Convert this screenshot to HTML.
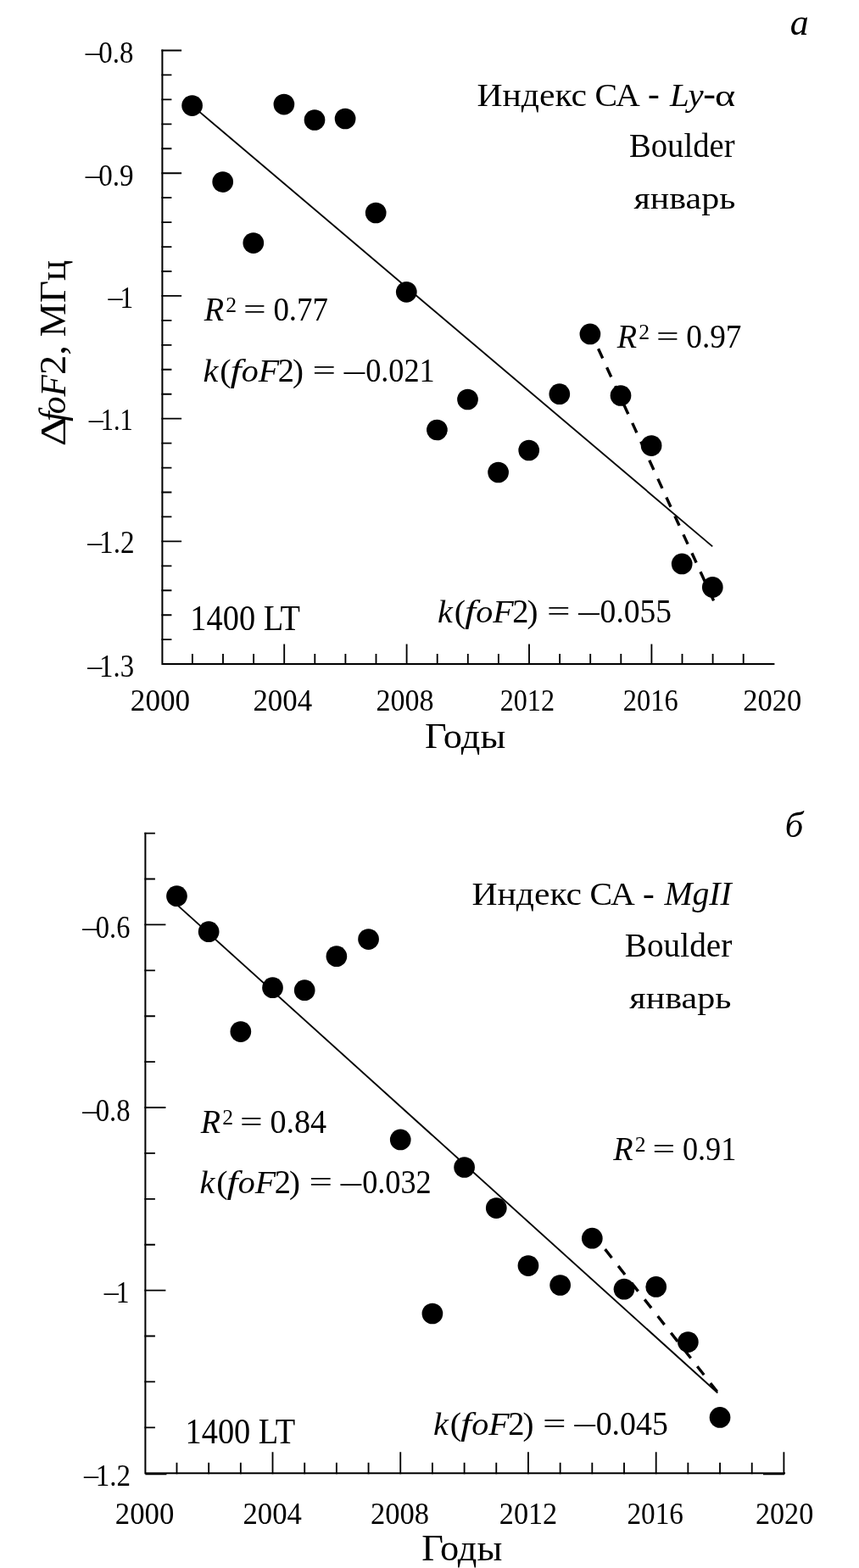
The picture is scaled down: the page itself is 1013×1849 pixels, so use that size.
<!DOCTYPE html>
<html><head><meta charset="utf-8"><title>fig</title>
<style>
html,body{margin:0;padding:0;background:#fff}svg{display:block}
text{font-family:"Liberation Serif","DejaVu Serif",serif;fill:#000}
.i{font-style:italic}
</style></head><body>
<svg width="1013" height="1849" viewBox="0 0 1013 1849">
<rect width="1013" height="1849" fill="#fff"/>
<path d="M191.4 58.6V783.1H913.4" stroke="#000" stroke-width="2" fill="none" stroke-linejoin="miter"/>
<path d="M190.4 59.5h23.7M190.4 88.44h12M190.4 117.39h12M190.4 146.33h12M190.4 175.28h12M190.4 204.22h23.7M190.4 233.16h12M190.4 262.11h12M190.4 291.05h12M190.4 320h12M190.4 348.94h23.7M190.4 377.88h12M190.4 406.83h12M190.4 435.77h12M190.4 464.72h12M190.4 493.66h23.7M190.4 522.6h12M190.4 551.55h12M190.4 580.49h12M190.4 609.44h12M190.4 638.38h23.7M190.4 667.32h12M190.4 696.27h12M190.4 725.21h12M190.4 754.16h12M226.9 784.1v-13M263 784.1v-13M299.1 784.1v-13M335.2 784.1v-24.7M371.3 784.1v-13M407.4 784.1v-13M443.5 784.1v-13M479.6 784.1v-24.7M515.7 784.1v-13M551.8 784.1v-13M587.9 784.1v-13M624 784.1v-24.7M660.1 784.1v-13M696.2 784.1v-13M732.3 784.1v-13M768.4 784.1v-24.7M804.5 784.1v-13M840.6 784.1v-13M876.7 784.1v-13" stroke="#000" stroke-width="1.85" fill="none"/>
<path d="M226.7 124.6L840.2 644.4" stroke="#000" stroke-width="1.9" fill="none"/>
<path d="M697.6 393.9L841.4 707.8" stroke="#000" stroke-width="3.4" stroke-dasharray="12.4 11.7" stroke-dashoffset="5.0" fill="none"/>
<g fill="#000"><circle cx="226.6" cy="124.6" r="12.35"/><circle cx="262.7" cy="214.6" r="12.35"/><circle cx="298.8" cy="286.6" r="12.35"/><circle cx="334.9" cy="123.1" r="12.35"/><circle cx="371" cy="141.5" r="12.35"/><circle cx="407.1" cy="140" r="12.35"/><circle cx="443.2" cy="251" r="12.35"/><circle cx="479.3" cy="344.3" r="12.35"/><circle cx="515.4" cy="507" r="12.35"/><circle cx="551.5" cy="471" r="12.35"/><circle cx="587.6" cy="557" r="12.35"/><circle cx="623.7" cy="531" r="12.35"/><circle cx="659.8" cy="464.7" r="12.35"/><circle cx="695.9" cy="393.9" r="12.35"/><circle cx="732" cy="466.5" r="12.35"/><circle cx="768.1" cy="525.6" r="12.35"/><circle cx="804.2" cy="664.9" r="12.35"/><circle cx="840.3" cy="692.4" r="12.35"/></g>
<path d="M838.9 702.3L841.6 708.3" stroke="#000" stroke-width="3" fill="none"/>
<path d="M171.4 981.7V1737.2H926" stroke="#000" stroke-width="2" fill="none" stroke-linejoin="miter"/>
<path d="M170.4 982.6h12.5M170.4 1036.5h12.5M170.4 1090.4h25M170.4 1144.3h12.5M170.4 1198.2h12.5M170.4 1252.1h12.5M170.4 1306h25M170.4 1359.9h12.5M170.4 1413.8h12.5M170.4 1467.7h12.5M170.4 1521.6h25M170.4 1575.5h12.5M170.4 1629.4h12.5M170.4 1683.3h12.5M208.48 1738.2v-13.5M246.16 1738.2v-13.5M283.84 1738.2v-13.5M321.52 1738.2v-26M359.2 1738.2v-13.5M396.88 1738.2v-13.5M434.56 1738.2v-13.5M472.24 1738.2v-26M509.92 1738.2v-13.5M547.6 1738.2v-13.5M585.28 1738.2v-13.5M622.96 1738.2v-26M660.64 1738.2v-13.5M698.32 1738.2v-13.5M736 1738.2v-13.5M773.68 1738.2v-26M811.36 1738.2v-13.5M849.04 1738.2v-13.5M886.72 1738.2v-13.5M924.4 1738.2v-26M171.4 1738.3h25M900 1738.3h25" stroke="#000" stroke-width="1.85" fill="none"/>
<path d="M208.4 1066.6L846.3 1642.5" stroke="#000" stroke-width="1.9" fill="none"/>
<path d="M700.5 1456.6L849.5 1645.8" stroke="#000" stroke-width="3.4" stroke-dasharray="12.8 12.3" stroke-dashoffset="4.0" fill="none"/>
<g fill="#000"><circle cx="208.48" cy="1056.7" r="12.35"/><circle cx="246.16" cy="1098.7" r="12.35"/><circle cx="283.84" cy="1216.6" r="12.35"/><circle cx="321.52" cy="1164.7" r="12.35"/><circle cx="359.2" cy="1167.7" r="12.35"/><circle cx="396.88" cy="1127.7" r="12.35"/><circle cx="434.56" cy="1107.6" r="12.35"/><circle cx="472.24" cy="1343.9" r="12.35"/><circle cx="509.92" cy="1549" r="12.35"/><circle cx="547.6" cy="1376.5" r="12.35"/><circle cx="585.28" cy="1424.6" r="12.35"/><circle cx="622.96" cy="1492.6" r="12.35"/><circle cx="660.64" cy="1515.5" r="12.35"/><circle cx="698.32" cy="1460.2" r="12.35"/><circle cx="736" cy="1520.2" r="12.35"/><circle cx="773.68" cy="1517.4" r="12.35"/><circle cx="811.36" cy="1582.6" r="12.35"/><circle cx="849.04" cy="1671.4" r="12.35"/></g>
<g><text font-size="34" transform="translate(100.75 71.98) scale(1.0057 1.0000)">–</text><text font-size="34" transform="translate(116.29 74) scale(0.9675 1.0681)">0.8</text></g>
<g><text font-size="34" transform="translate(100.75 216.78) scale(1.0057 1.0000)">–</text><text font-size="34" transform="translate(116.28 218.8) scale(0.9736 1.0681)">0.9</text></g>
<g><text font-size="34" transform="translate(127.45 361.17) scale(1.0057 1.0000)">–</text><text font-size="34" transform="translate(141.45 363.2) scale(0.9167 1.0711)">1</text></g>
<g><text font-size="34" transform="translate(104.65 505.07) scale(1.0057 1.0000)">–</text><text font-size="34" transform="translate(118.72 507.1) scale(0.8933 1.0800)">1.1</text></g>
<g><text font-size="34" transform="translate(103.25 649.88) scale(1.0057 1.0000)">–</text><text font-size="34" transform="translate(117.07 651.9) scale(0.9775 1.0889)">1.2</text></g>
<g><text font-size="34" transform="translate(103.25 795.98) scale(1.0057 1.0000)">–</text><text font-size="34" transform="translate(117.11 798) scale(0.9647 1.0889)">1.3</text></g>
<g><text font-size="34" transform="translate(153.85 837.8) scale(1.0330 1.0374)">2000</text></g>
<g><text font-size="34" transform="translate(298.46 837.8) scale(1.0242 1.0374)">2004</text></g>
<g><text font-size="34" transform="translate(443.4 837.8) scale(1.0023 1.0374)">2008</text></g>
<g><text font-size="34" transform="translate(589.68 837.8) scale(0.9452 1.0374)">2012</text></g>
<g><text font-size="34" transform="translate(734.77 837.8) scale(0.9542 1.0374)">2016</text></g>
<g><text font-size="34" transform="translate(876.28 837.8) scale(1.0146 1.0374)">2020</text></g>
<g><text font-size="42" transform="translate(501.08 881.9) scale(1.0587 1.0255)">Годы</text></g>
<g><text class="i" font-size="44" transform="translate(931.65 41) scale(1.0000 1.0169)">а</text></g>
<g><text font-size="38" transform="translate(562.4 124.7) scale(1.0959 1.0080)">Индекс</text> <text font-size="38" transform="translate(701.43 124.7) scale(1.0490 1.0218)">СА</text> <text font-size="38" transform="translate(763.97 124.28) scale(1.0872 1.0872)">-</text> <text class="i" font-size="38" transform="translate(789.94 124.7) scale(1.0800 0.9800)">Ly</text><text font-size="38" transform="translate(829.36 124.85) scale(1.1590 1.1500)">-</text><text font-size="38" transform="translate(843.08 124.7) scale(1.2114 0.9444)">α</text></g>
<g><text font-size="38" transform="translate(741.98 185.1) scale(1.0174 1.0340)">Boulder</text></g>
<g><text font-size="38" transform="translate(747.5 245.8) scale(1.1058 0.9389)">январь</text></g>
<g><text class="i" font-size="36" transform="translate(240.77 378.2) scale(1.0605 1.1064)">R</text><text font-size="22" transform="translate(266.33 368) scale(1.1657 1.1724)">2</text> <text font-size="38" transform="translate(287.01 375.96) scale(1.2457 0.9000)">=</text> <text font-size="38" transform="translate(322.44 378.2) scale(0.9703 1.0772)">0.77</text></g>
<g><text class="i" font-size="38" transform="translate(239.45 450) scale(1.0545 1.0000)">k</text><text font-size="38" transform="translate(259.15 450) scale(1.0564 1.0133)">(</text><text class="i" font-size="38" transform="translate(271.38 450) scale(1.2414 1.0168)">f</text><text class="i" font-size="38" transform="translate(284.68 450) scale(1.0545 1.0240)">oF</text><text font-size="38" transform="translate(327.63 450) scale(1.0098 1.0614)">2</text><text font-size="38" transform="translate(345.02 450) scale(1.0256 1.0133)">)</text> <text font-size="38" transform="translate(368.43 448.16) scale(1.2857 0.9000)">=</text> <text font-size="38" transform="translate(405.82 448.95) scale(1.2821 1.0000)">–</text><text font-size="38" transform="translate(431.17 450) scale(0.9541 1.0693)">0.021</text></g>
<g><text class="i" font-size="36" transform="translate(727.67 410.4) scale(1.0605 1.1064)">R</text><text font-size="22" transform="translate(753.23 400.2) scale(1.1657 1.1724)">2</text> <text font-size="38" transform="translate(773.91 408.16) scale(1.2457 0.9000)">=</text> <text font-size="38" transform="translate(809.33 410.4) scale(0.9797 1.0772)">0.97</text></g>
<g><text class="i" font-size="38" transform="translate(515.95 733.8) scale(1.0545 1.0000)">k</text><text font-size="38" transform="translate(535.65 733.8) scale(1.0564 1.0133)">(</text><text class="i" font-size="38" transform="translate(547.88 733.8) scale(1.2414 1.0168)">f</text><text class="i" font-size="38" transform="translate(561.18 733.8) scale(1.0545 1.0240)">oF</text><text font-size="38" transform="translate(604.13 733.8) scale(1.0098 1.0614)">2</text><text font-size="38" transform="translate(621.52 733.8) scale(1.0256 1.0133)">)</text> <text font-size="38" transform="translate(644.93 731.96) scale(1.2857 0.9000)">=</text> <text font-size="38" transform="translate(682.32 732.75) scale(1.2821 1.0000)">–</text><text font-size="38" transform="translate(707.62 733.8) scale(0.9891 1.0693)">0.055</text></g>
<g><text font-size="40" transform="translate(224.34 743.4) scale(0.9595 1.0430)">1400 LT</text></g>
<g><text font-size="42" transform="translate(76.7 524.4) rotate(-90) translate(-1.94 0) scale(1.2958 1.0270)">Δ</text><text class="i" font-size="42" transform="translate(76.7 524.4) rotate(-90) translate(27.5 0) scale(1.0000 1.0508)">f</text><text class="i" font-size="42" transform="translate(76.7 524.4) rotate(-90) translate(36.27 0) scale(0.9836 1.0291)">oF</text><text font-size="42" transform="translate(76.7 524.4) rotate(-90) translate(82.36 0) scale(1.1074 1.0739)">2,</text> <text font-size="42" transform="translate(76.7 524.4) rotate(-90) translate(127.16 0) scale(1.0756 1.0364)">МГц</text></g>
<g><text font-size="34" transform="translate(97.25 1104.38) scale(1.0057 1.0000)">–</text><text font-size="34" transform="translate(112.81 1106.4) scale(0.9540 1.0901)">0.6</text></g>
<g><text font-size="34" transform="translate(97.25 1320.38) scale(1.0057 1.0000)">–</text><text font-size="34" transform="translate(112.8 1322.4) scale(0.9600 1.0901)">0.8</text></g>
<g><text font-size="34" transform="translate(122.85 1533.88) scale(1.0057 1.0000)">–</text><text font-size="34" transform="translate(136.82 1535.9) scale(0.9250 1.0578)">1</text></g>
<g><text font-size="34" transform="translate(98.95 1750.38) scale(1.0057 1.0000)">–</text><text font-size="34" transform="translate(112.78 1752.4) scale(0.9722 1.0667)">1.2</text></g>
<g><text font-size="34" transform="translate(135.87 1796.6) scale(1.0222 1.0549)">2000</text></g>
<g><text font-size="34" transform="translate(286.47 1796.6) scale(1.0212 1.0549)">2004</text></g>
<g><text font-size="34" transform="translate(437.08 1796.6) scale(1.0146 1.0549)">2008</text></g>
<g><text font-size="34" transform="translate(588.79 1796.6) scale(1.0069 1.0549)">2012</text></g>
<g><text font-size="34" transform="translate(739.43 1796.6) scale(0.9786 1.0549)">2016</text></g>
<g><text font-size="34" transform="translate(890.89 1796.6) scale(1.0054 1.0549)">2020</text></g>
<g><text font-size="42" transform="translate(497.18 1839.9) scale(1.0575 1.0436)">Годы</text></g>
<g><text class="i" font-size="44" transform="translate(925.85 987) scale(0.9741 0.9778)">б</text></g>
<g><text font-size="38" transform="translate(556.4 1067) scale(1.0959 1.0080)">Индекс</text> <text font-size="38" transform="translate(695.43 1067) scale(1.0490 1.0218)">СА</text> <text font-size="38" transform="translate(757.97 1066.58) scale(1.0872 1.0872)">-</text> <text class="i" font-size="38" transform="translate(783.52 1066.9) scale(1.0436 1.0320)">MgII</text></g>
<g><text font-size="38" transform="translate(736.77 1128.1) scale(1.0339 1.0340)">Boulder</text></g>
<g><text font-size="38" transform="translate(742.3 1188.6) scale(1.1077 0.9444)">январь</text></g>
<g><text class="i" font-size="36" transform="translate(236.77 1336.2) scale(1.0605 1.1064)">R</text><text font-size="22" transform="translate(262.33 1326) scale(1.1657 1.1724)">2</text> <text font-size="38" transform="translate(283.01 1333.96) scale(1.2457 0.9000)">=</text> <text font-size="38" transform="translate(318.4 1336.2) scale(1.0031 1.0772)">0.84</text></g>
<g><text class="i" font-size="38" transform="translate(235.45 1407) scale(1.0545 1.0000)">k</text><text font-size="38" transform="translate(255.15 1407) scale(1.0564 1.0133)">(</text><text class="i" font-size="38" transform="translate(267.38 1407) scale(1.2414 1.0168)">f</text><text class="i" font-size="38" transform="translate(280.68 1407) scale(1.0545 1.0240)">oF</text><text font-size="38" transform="translate(323.63 1407) scale(1.0098 1.0614)">2</text><text font-size="38" transform="translate(341.02 1407) scale(1.0256 1.0133)">)</text> <text font-size="38" transform="translate(364.43 1405.16) scale(1.2857 0.9000)">=</text> <text font-size="38" transform="translate(401.82 1405.95) scale(1.2821 1.0000)">–</text><text font-size="38" transform="translate(427.17 1407) scale(0.9537 1.0693)">0.032</text></g>
<g><text class="i" font-size="36" transform="translate(723.27 1368) scale(1.0605 1.1064)">R</text><text font-size="22" transform="translate(748.83 1357.8) scale(1.1657 1.1724)">2</text> <text font-size="38" transform="translate(769.51 1365.76) scale(1.2457 0.9000)">=</text> <text font-size="38" transform="translate(804.97 1368) scale(0.9514 1.0772)">0.91</text></g>
<g><text class="i" font-size="38" transform="translate(511.05 1691.5) scale(1.0545 1.0000)">k</text><text font-size="38" transform="translate(530.75 1691.5) scale(1.0564 1.0133)">(</text><text class="i" font-size="38" transform="translate(542.98 1691.5) scale(1.2414 1.0168)">f</text><text class="i" font-size="38" transform="translate(556.28 1691.5) scale(1.0545 1.0240)">oF</text><text font-size="38" transform="translate(599.23 1691.5) scale(1.0098 1.0614)">2</text><text font-size="38" transform="translate(616.62 1691.5) scale(1.0256 1.0133)">)</text> <text font-size="38" transform="translate(640.03 1689.66) scale(1.2857 0.9000)">=</text> <text font-size="38" transform="translate(677.42 1690.45) scale(1.2821 1.0000)">–</text><text font-size="38" transform="translate(702.71 1691.5) scale(0.9952 1.0693)">0.045</text></g>
<g><text font-size="40" transform="translate(218.54 1701.9) scale(0.9595 1.0355)">1400 LT</text></g>
</svg></body></html>
